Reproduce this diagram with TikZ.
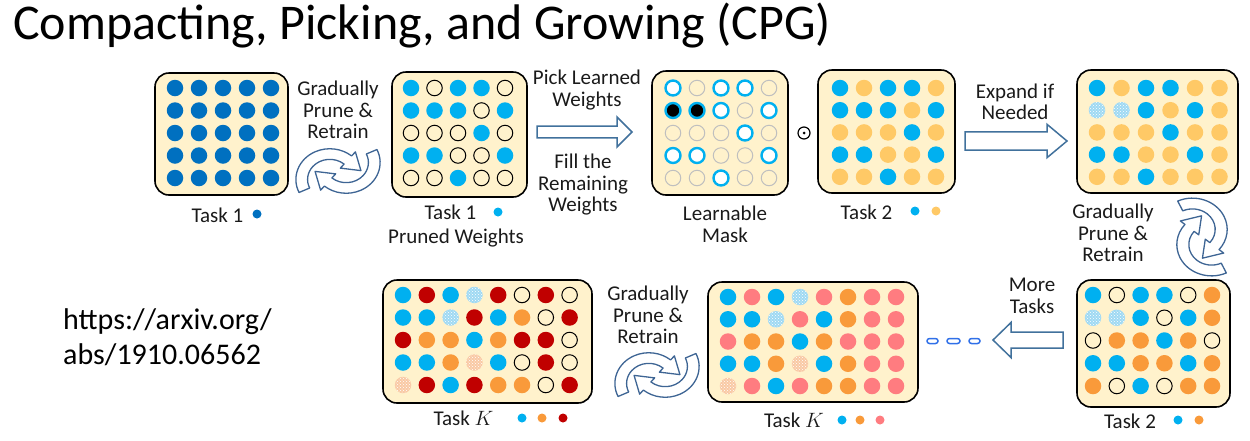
\documentclass[tikz,border=0pt]{standalone}
\usepackage{fontspec}
\setmainfont{Carlito}
\usetikzlibrary{patterns}

\definecolor{cDark}{HTML}{0070C0}
\definecolor{cLight}{HTML}{00B0F0}
\definecolor{cYellow}{HTML}{FFC966}
\definecolor{cOrange}{HTML}{F99A3A}
\definecolor{cPink}{HTML}{FF7C80}
\definecolor{cRed}{HTML}{C00000}
\definecolor{cBeige}{HTML}{FFF2CC}
\definecolor{cArrow}{HTML}{41719C}
\definecolor{cIcon}{HTML}{3E6594}
\definecolor{cDash}{HTML}{3070E8}
\definecolor{cGray}{HTML}{BFBFBF}
\definecolor{cSpeckB}{HTML}{9FD9F3}
\definecolor{cSpeckO}{HTML}{F9C9A4}
\definecolor{cText}{HTML}{1A1A1A}

% grid of weight dots: name, x0, y0, dx, dy, rows of codes
\newcommand\dotgrid[6]{%
  \foreach \rowcodes [count=\ri] in {#6} {
    \foreach \code [count=\ci] in \rowcodes {
      \node[wt\code] (#1-\ri-\ci) at ({#2+(\ci-1)*#4},{#3+(\ri-1)*#5}) {};
    }
  }%
}
% hollow block arrow: tail x, tip x, y, shaft half height, head half height, head length
\newcommand\hollowarrow[6]{%
  \pgfmathsetmacro\headbase{#2-sign(#2-#1)*#6}%
  \draw[blockarrow] (#1,#3-#4) -- (\headbase,#3-#4) -- (\headbase,#3-#5) -- (#2,#3)
    -- (\headbase,#3+#5) -- (\headbase,#3+#4) -- (#1,#3+#4) -- cycle;
}

\tikzset{
  panel/.style={draw=black, line width=1.6pt, fill=cBeige, rounded corners=14pt, inner sep=0pt},
  dotbase/.style={circle, inner sep=0pt, minimum size=16.5pt},
  wtn/.style={dotbase, fill=cDark},
  wtb/.style={dotbase, fill=cLight},
  wty/.style={dotbase, fill=cYellow},
  wto/.style={dotbase, fill=cOrange},
  wtp/.style={dotbase, fill=cPink},
  wtr/.style={dotbase, fill=cRed},
  wte/.style={dotbase, minimum size=15.5pt, draw=black, line width=1pt},
  wtg/.style={dotbase, minimum size=15.5pt, draw=cGray, line width=1pt},
  wtm/.style={dotbase, minimum size=15pt, draw=cLight, line width=2.4pt, fill=white},
  wtk/.style={dotbase, minimum size=15pt, draw=cLight, line width=2.4pt, fill=black},
  wts/.style={dotbase, preaction={fill=cSpeckB}, pattern=crosshatch dots, pattern color=white},
  wtt/.style={dotbase, preaction={fill=cSpeckO}, pattern=crosshatch dots, pattern color=white},
  keydot/.style={circle, inner sep=0pt, minimum size=9pt},
  lbl/.style={font=\fontsize{21}{21.5}\selectfont, text=cText, inner sep=0pt, align=center},
  blockarrow/.style={draw=cArrow, line width=1.5pt, fill=white, line join=miter},
  iconline/.style={draw=cIcon, line width=1.3pt, fill=white, line join=round},
  dashbox/.style={draw=cDash, line width=1.5pt, fill=white, rounded corners=2.5pt},
  recyc/.pic={
    \begin{scope}[x=1pt,y=1pt]
      \foreach \turn in {0,180}{
        \begin{scope}[rotate=\turn]
          \draw[iconline] (-33.28,-20.26) arc[start angle=205, end angle=50, radius=29]
            -- (14.86,18.05) -- (19.6,0.36) -- (2.0,2.72) -- (5.21,6.55)
            arc[start angle=50, end angle=205, radius=19] -- cycle;
        \end{scope}
      }
    \end{scope}
  }
}

\begin{document}
\begin{tikzpicture}[x=1pt,y=-1pt]
\useasboundingbox (0,0) rectangle (1250,440);

% title and reference
\node[anchor=base west, inner sep=0pt, font=\fontsize{50}{55}\selectfont] (title) at (13,39)
  {Compacting, Picking, and Growing (CPG)};
\node[anchor=west, inner sep=0pt, align=left, font=\fontsize{30}{35}\selectfont] (url) at (63,337)
  {https://arxiv.org/\\abs/1910.06562};

% panels
\node[panel, minimum width=133pt, minimum height=122pt] (P1) at (221.5,134) {};
\node[panel, minimum width=135pt, minimum height=125pt] (P2) at (459.5,134.5) {};
\node[panel, minimum width=136pt, minimum height=124pt] (P3) at (720,133) {};
\node[panel, minimum width=137pt, minimum height=123pt] (P4) at (886.5,131.5) {};
\node[panel, minimum width=161pt, minimum height=123pt] (P5) at (1157.5,131.5) {};
\node[panel, minimum width=153pt, minimum height=127pt] (P6) at (1153.5,343.5) {};
\node[panel, minimum width=210pt, minimum height=120pt] (P7) at (813,342) {};
\node[panel, minimum width=209pt, minimum height=123pt] (P8) at (487.5,341.5) {};

% weights
\dotgrid{g1}{175}{88}{24}{22.5}{{n,n,n,n,n},{n,n,n,n,n},{n,n,n,n,n},{n,n,n,n,n},{n,n,n,n,n}}
\dotgrid{g2}{411}{88}{23.5}{22.5}{{b,e,b,b,e},{b,b,b,e,b},{e,e,e,b,e},{b,b,e,e,b},{e,e,b,e,e}}
\dotgrid{g3}{673}{88}{24}{22.5}{{m,g,m,m,g},{k,k,m,g,m},{g,g,g,m,g},{m,m,g,g,m},{g,g,m,g,g}}
\dotgrid{g4}{840}{88}{24}{22.2}{{b,y,b,b,y},{b,b,b,y,b},{y,y,y,b,y},{b,b,y,y,b},{y,y,b,y,y}}
\dotgrid{g5}{1097}{88}{24.5}{22.2}{{b,y,b,b,y,y},{s,s,b,y,b,y},{y,y,y,b,y,y},{b,b,y,y,b,y},{y,y,b,y,y,y}}
\dotgrid{g6}{1093}{295}{23.8}{22.75}{{b,e,b,b,e,o},{s,s,b,e,b,o},{e,o,o,b,o,e},{b,b,o,o,b,o},{o,e,b,e,o,o}}
\dotgrid{g7}{728}{297}{24}{22.25}{{b,p,b,s,p,o,p,p},{b,b,s,p,b,o,p,p},{p,o,o,b,o,p,p,p},{b,b,o,t,b,o,p,p},{t,p,b,p,o,o,p,p}}
\dotgrid{g8}{403}{295}{23.8}{22.5}{{b,r,b,s,r,e,r,e},{b,b,s,r,b,o,e,r},{r,o,o,b,o,r,r,e},{b,b,o,t,b,e,r,e},{t,r,b,r,o,o,e,r}}

% panel captions
\node[lbl] (c1) at (217.5,215) {Task 1};
\node[keydot, fill=cDark] (c1a) at (257,214) {};
\node[lbl] (c2) at (450.5,212) {Task 1};
\node[keydot, fill=cLight] (c2a) at (498,212) {};
\node[lbl] (c2b) at (456,238) {Pruned Weights};
\node[lbl] (c3) at (725,224.5) {Learnable\\Mask};
\node[lbl] (c4) at (866.5,212) {Task 2};
\node[keydot, fill=cLight] (c4a) at (915,211) {};
\node[keydot, fill=cYellow] (c4b) at (936,211) {};
\node[lbl] (c6) at (1130,421) {Task 2};
\node[keydot, fill=cLight] (c6a) at (1178,420) {};
\node[keydot, fill=cOrange] (c6b) at (1199,420) {};
\node[lbl] (c7) at (794,420) {Task $K$};
\node[keydot, fill=cLight] (c7a) at (842,420) {};
\node[keydot, fill=cOrange] (c7b) at (860,420) {};
\node[keydot, fill=cPink] (c7c) at (880,420) {};
\node[lbl] (c8) at (463.5,418) {Task $K$};
\node[keydot, fill=cLight] (c8a) at (522,418) {};
\node[keydot, fill=cOrange] (c8b) at (542,418) {};
\node[keydot, fill=cRed] (c8c) at (563,418) {};

% step texts
\node[lbl] (s1) at (338,110) {Gradually\\Prune \&\\Retrain};
\node[lbl] (s2) at (587,90) {Pick Learned\\Weights};
\node[lbl] (s3) at (583,185) {Fill the\\Remaining\\Weights};
\node[lbl] (s4) at (1015,102) {Expand if\\Needed};
\node[lbl] (s5) at (1113,233) {Gradually\\Prune \&\\Retrain};
\node[lbl] (s6) at (1032,296) {More\\Tasks};
\node[lbl] (s7) at (648,315) {Gradually\\Prune \&\\Retrain};

% element-wise product sign
\node[circle, draw=black, line width=1.2pt, minimum size=12pt, inner sep=0pt] (odot) at (804,133) {};
\node[circle, fill=black, minimum size=3pt, inner sep=0pt] (odotc) at (804,133) {};

% block arrows
\hollowarrow{537}{632}{132}{5.8}{15}{15}
\hollowarrow{965}{1067}{141}{9.2}{16.7}{20}
\hollowarrow{1063}{993}{340}{8}{17.5}{18}

% dashes towards further tasks
\draw[dashbox] (927,338.5) rectangle (938,343.5);
\draw[dashbox] (947,338.5) rectangle (960,343.5);
\draw[dashbox] (969,338.5) rectangle (980,343.5);

% prune-and-retrain cycle icons
\pic[xscale=1.17, yscale=1.06] (ic1) at (338,171) {recyc};
\pic[rotate=90, xscale=1.08, yscale=1.2] (ic2) at (1202,237) {recyc};
\pic[xscale=1.17, yscale=1.06] (ic3) at (657,375) {recyc};
\end{tikzpicture}
\end{document}
